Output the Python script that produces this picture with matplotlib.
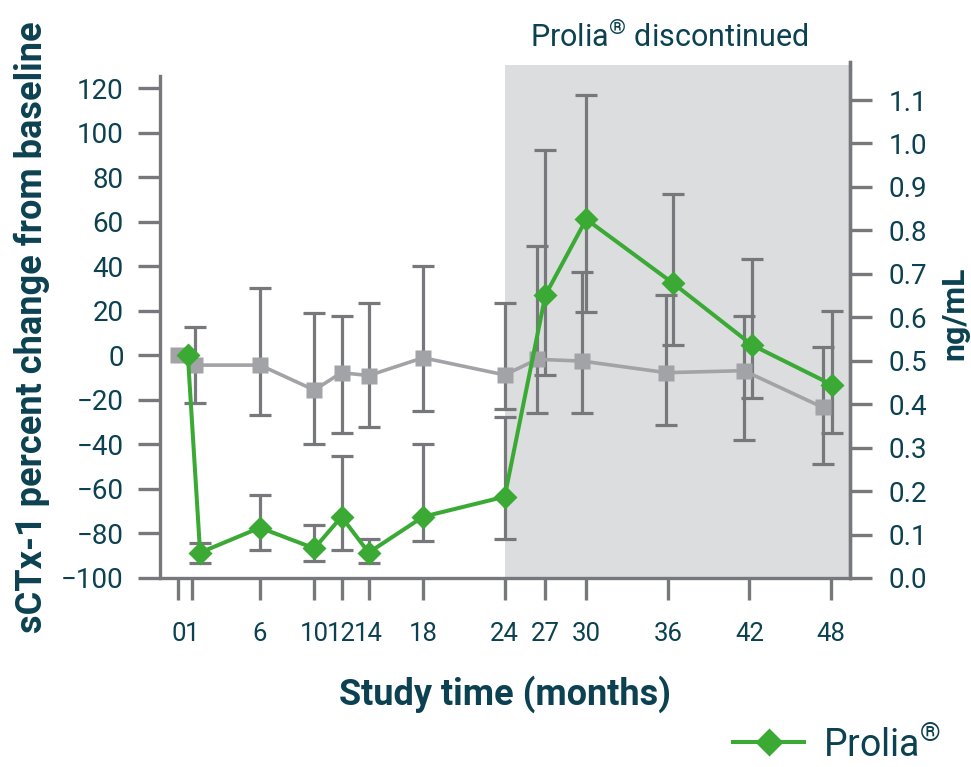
import numpy as np
import matplotlib
matplotlib.use('Agg')
import matplotlib.pyplot as plt
from matplotlib.lines import Line2D

# ---- data ----
tick_months = [0, 1, 6, 10, 12, 14, 18, 24, 27, 30, 36, 42, 48]
stop_month = 24  # Prolia discontinued

# grey series (squares)
grey_x = [0, 1.2, 6, 10, 12, 14, 18, 24, 26.4, 29.7, 35.9, 41.6, 47.4]
grey_y = [0, -4.4, -4.4, -15.6, -7.8, -9.1, -1.1, -8.8, -1.8, -2.6, -7.8, -6.9, -23.4]
grey_hi = [None, 12.8, 30.4, 19.1, 17.6, 23.6, 40.3, 23.6, 49.2, 37.2, 26.9, 17.8, 3.9]
grey_lo = [None, -21.3, -26.8, -39.8, -34.8, -32.1, -24.9, -24.2, -25.8, -25.8, -31.3, -38.0, -48.8]

# Prolia series (diamonds)
prolia_x = [0.7, 1.6, 6, 10, 12, 14, 18, 24, 27.0, 30.0, 36.4, 42.2, 48.1]
prolia_y = [0, -88.6, -77.4, -86.7, -72.5, -88.6, -72.5, -63.5, 27.1, 61.1, 32.3, 4.6, -13.3]
prolia_hi = [None, -84.1, -62.7, -76.4, -45.2, -82.5, -39.8, -27.8, 92.0, 116.9, 72.4, 43.2, 20.0]
prolia_lo = [None, -93.4, -87.4, -92.2, -87.4, -93.4, -83.3, -82.3, -8.8, 19.6, 4.6, -19.0, -35.0]

left_ticks = list(range(-100, 121, 20))
right_ticks = [i / 10 for i in range(0, 12)]

# ---- style ----
TEXT = '#0b4150'
AXC = '#77787c'
GREY = '#a2a3a6'
GREEN = '#3aaa35'
SHADE = '#dcdddf'

plt.rcParams['font.family'] = ['Roboto', 'DejaVu Sans']
plt.rcParams['mathtext.fontset'] = 'custom'
plt.rcParams['mathtext.rm'] = 'Roboto'

fig = plt.figure(figsize=(9.71, 7.67), dpi=100)
ax = fig.add_axes([160 / 971, 1 - 578 / 767, 690 / 971, 516 / 767])

ymin, ymax = -100, 131.7
xmin, xmax = -1.35, 49.4
ax.set_ylim(ymin, ymax)
ax.set_xlim(xmin, xmax)

# shaded region after discontinuation
ax.fill_between([stop_month, xmax], ymin, 130.3, color=SHADE, lw=0, zorder=0)


def err(y, lo, hi):
    yy = np.array(y[1:], float)
    return [yy - np.array(lo[1:], float), np.array(hi[1:], float) - yy]


ax.errorbar(grey_x[1:], grey_y[1:], yerr=err(grey_y, grey_lo, grey_hi), fmt='none',
            ecolor=AXC, elinewidth=2.3, capsize=8, capthick=2.3, zorder=2)
ax.errorbar(prolia_x[1:], prolia_y[1:], yerr=err(prolia_y, prolia_lo, prolia_hi), fmt='none',
            ecolor=AXC, elinewidth=2.3, capsize=8, capthick=2.3, zorder=2)

ax.plot(grey_x, grey_y, color=GREY, lw=2.6, marker='s', ms=12, mec='none', zorder=3)
ax.plot(prolia_x, prolia_y, color=GREEN, lw=2.9, marker='D', ms=12.5, mec='none', zorder=4)

# axes look
ax.spines['top'].set_visible(False)
for s in ['left', 'bottom', 'right']:
    ax.spines[s].set_color(AXC)
    ax.spines[s].set_linewidth(2.4)
ax.spines['left'].set_bounds(-100, 125.4)

ax.set_yticks(left_ticks)
ax.set_xticks(tick_months)
ax.set_xticklabels([str(m) for m in tick_months])
ax.tick_params(axis='y', direction='out', length=16, width=2.4, color=AXC,
               labelsize=20, labelcolor=TEXT, pad=10)
ax.tick_params(axis='x', direction='out', length=16, width=2.4, color=AXC,
               labelsize=18.5, labelcolor=TEXT, pad=16)

ax2 = ax.twinx()
ax2.set_ylim(0, (ymax - ymin) * 0.005125)
ax2.set_yticks(right_ticks)
ax2.set_yticklabels(['%.1f' % v for v in right_ticks])
for s in ['top', 'left', 'bottom']:
    ax2.spines[s].set_visible(False)
ax2.spines['right'].set_color(AXC)
ax2.spines['right'].set_linewidth(2.4)
ax2.tick_params(axis='y', direction='out', length=16, width=2.4, color=AXC,
                labelsize=20, labelcolor=TEXT, pad=12)

# labels
fig.text(32 / 971, 1 - 327 / 767, 'sCTx-1 percent change from baseline', rotation=90,
         ha='center', va='center', fontsize=26, fontweight='bold', color=TEXT)
fig.text(954 / 971, 1 - 313 / 767, 'ng/mL', rotation=90,
         ha='center', va='center', fontsize=23, fontweight='bold', color=TEXT)
fig.text(505 / 971, 1 - 694 / 767, 'Study time (months)',
         ha='center', va='center', fontsize=26, fontweight='bold', color=TEXT)
fig.text(669 / 971, 1 - 37 / 767, r'Prolia$^{\mathregular{®}}$ discontinued',
         ha='center', va='center', fontsize=22, color=TEXT)

# legend
handle = Line2D([], [], color=GREEN, lw=2.9, marker='D', ms=14, mec='none')
fig.legend([handle], [r'Prolia$^{\mathregular{®}}$'], loc='center left',
           bbox_to_anchor=(733 / 971, 1 - 744 / 767), frameon=False,
           fontsize=27, labelcolor=TEXT, handlelength=1.9, handletextpad=0.5,
           borderpad=0, borderaxespad=0)

fig.savefig('out.png', dpi=100)
